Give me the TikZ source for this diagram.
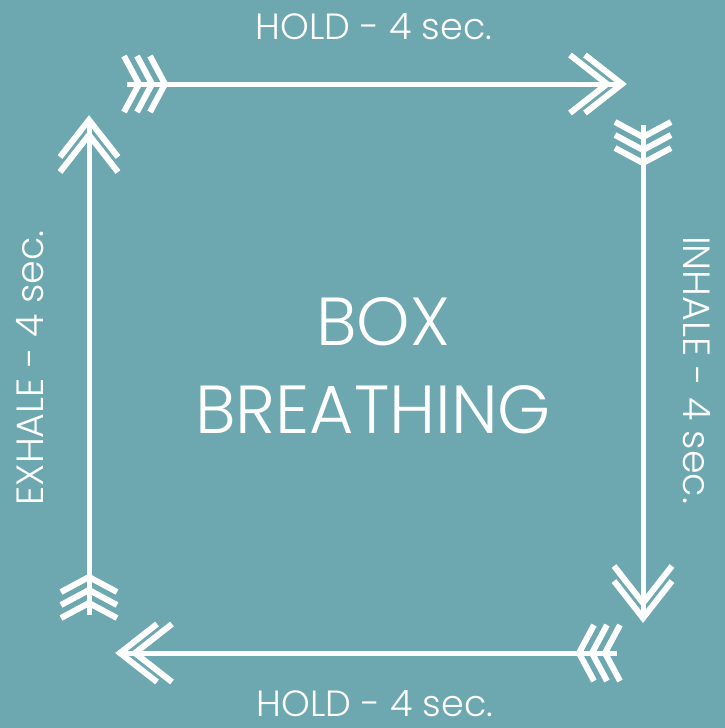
\documentclass[tikz,border=0pt]{standalone}
\usepackage{fontspec}
\setmainfont{Poppins Light}
\definecolor{bgteal}{HTML}{6DA7B0}
\tikzset{
  arrowline/.style={draw=white, line width=6pt, line join=miter, miter limit=10},
  shaft/.style={draw=white, line width=5pt},
  lbl/.style={text=white, inner sep=0pt, font=\fontsize{36.5}{40}\selectfont},
  sidelbl/.style={text=white, inner sep=0pt, font=\fontsize{38}{44}\selectfont},
  title/.style={text=white, inner sep=0pt, font=\fontsize{68}{74}\selectfont},
  fletch/.pic={\foreach \v in {12,25,38}{\draw[arrowline] (\v-15,28) -- (\v,0) -- (\v-15,-28);}},
  head/.pic={\foreach \v in {0,-15}{\draw[arrowline] (\v-37,29) -- (\v,0) -- (\v-37,-29);}}
}
\begin{document}
\begin{tikzpicture}[x=1pt,y=-1pt]
\fill[bgteal] (0,0) rectangle (725,728);
\useasboundingbox (0,0) rectangle (725,728);
% named ends of the four arrows
\coordinate (ts) at (127,84);  \coordinate (te) at (622,84);
\coordinate (rs) at (643,125); \coordinate (re) at (643,618);
\coordinate (bs) at (617,653); \coordinate (be) at (120,653);
\coordinate (ls) at (89,615);  \coordinate (le) at (89,120);
\draw[shaft] (ts) -- ([xshift=-3pt]te);
\draw[shaft] (rs) -- ([yshift=3pt]re);
\draw[shaft] (bs) -- ([xshift=3pt]be);
\draw[shaft] (ls) -- ([yshift=-3pt]le);
\pic[rotate=0] at (ts) {fletch};   \pic[rotate=0] at (te) {head};
\pic[rotate=-90] at (rs) {fletch}; \pic[rotate=-90] at (re) {head};
\pic[rotate=180] at (bs) {fletch}; \pic[rotate=180] at (be) {head};
\pic[rotate=90] at (ls) {fletch};  \pic[rotate=90] at (le) {head};
% labels
\node[lbl, anchor=base] (holdtop) at (374,39) {HOLD - 4 sec.};
\node[lbl, anchor=base] (holdbot) at (375,716) {HOLD - 4 sec.};
\node[sidelbl, anchor=base, rotate=90] (exhale) at (43,368) {EXHALE - 4 sec.};
\node[sidelbl, anchor=base, rotate=-90] (inhale) at (683,370) {INHALE - 4 sec.};
\node[title, anchor=base] (box) at (383,345) {BOX};
\node[title, anchor=base] (breathing) at (373,433) {BREATHING};
\end{tikzpicture}
\end{document}
